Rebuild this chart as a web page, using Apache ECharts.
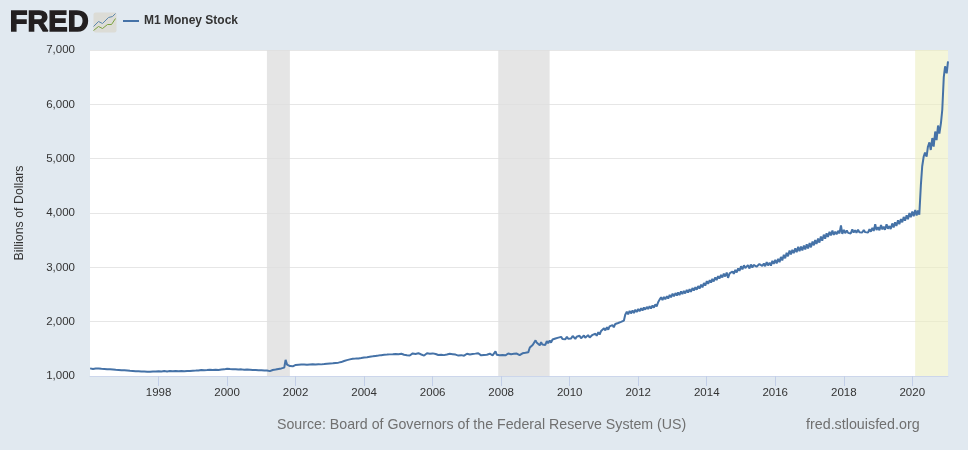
<!DOCTYPE html>
<html><head><meta charset="utf-8">
<style>html,body{margin:0;padding:0;background:#e1e9f0}#c{width:968px;height:450px}</style>
<script src="https://cdn.jsdelivr.net/npm/echarts@6/dist/echarts.min.js"></script>
</head><body><div id="c"></div>
<script>
const seriesName = 'M1 Money Stock';
const yTicks = [1000,2000,3000,4000,5000,6000,7000];
const tickYears = ['1998','2000','2002','2004','2006','2008','2010','2012','2014','2016','2018','2020'];
const recessions = [['2001-03-01','2001-11-01'],['2007-12-01','2009-06-01'],['2020-02-01','2021-01-16']];
const startYear = 1996;
// two readings per month, Jan 1996 onward (billions of dollars)
const y1996=[1140,1132,1128,1146,1136,1126,1138,1124,1133,1120,1130,1116,1124,1110,1122,1106,1118,1102,1114,1098,1110,1094,1106,1090];
const y1997=[1104,1090,1100,1084,1096,1080,1092,1076,1088,1074,1086,1070,1084,1066,1082,1064,1080,1062,1078,1066,1082,1066,1084,1068];
const y1998=[1088,1068,1084,1072,1090,1070,1084,1068,1090,1074,1088,1068,1092,1072,1086,1070,1090,1072,1086,1068,1092,1074,1094,1076];
const y1999=[1098,1078,1100,1082,1102,1086,1112,1088,1106,1088,1110,1090,1114,1094,1110,1092,1116,1096,1112,1092,1118,1096,1122,1104];
const y2000=[1135,1156,1130,1112,1126,1108,1124,1128,1118,1104,1122,1126,1114,1100,1118,1102,1116,1098,1112,1096,1110,1094,1108,1094];
const y2001=[1106,1090,1102,1088,1100,1108,1090,1104,1110,1104,1118,1114,1130,1126,1140,1138,1154,1296,1210,1176,1182,1192,1178,1198];
const y2002=[1204,1182,1208,1186,1210,1190,1212,1192,1208,1188,1212,1190,1216,1194,1212,1192,1218,1196,1214,1194,1220,1198,1226,1202];
const y2003=[1230,1206,1234,1212,1240,1216,1246,1226,1256,1240,1276,1254,1292,1272,1306,1284,1318,1296,1320,1296,1324,1300,1330,1304];
const y2004=[1340,1312,1346,1320,1354,1328,1362,1334,1370,1342,1376,1348,1384,1354,1390,1360,1394,1366,1398,1368,1402,1372,1406,1376];
const y2005=[1402,1380,1410,1376,1392,1414,1384,1404,1378,1398,1416,1382,1406,1378,1420,1388,1396,1410,1376,1400,1418,1384,1410,1392];
const y2006=[1416,1390,1404,1422,1386,1408,1392,1418,1384,1412,1396,1378,1408,1386,1402,1372,1394,1412,1376,1398,1384,1404,1374,1396];
const y2007=[1410,1384,1396,1376,1404,1390,1412,1378,1420,1392,1380,1406,1386,1414,1392,1378,1410,1394,1380,1402,1452,1390,1408,1382];
const y2008=[1404,1386,1412,1380,1396,1414,1384,1402,1378,1408,1388,1412,1392,1384,1406,1418,1400,1426,1458,1436,1524,1490,1572,1540];
const y2009=[1656,1610,1596,1564,1624,1578,1612,1572,1642,1602,1654,1614,1672,1638,1690,1656,1706,1670,1720,1680,1714,1676,1724,1684];
const y2010=[1718,1692,1736,1700,1682,1722,1708,1740,1694,1728,1746,1704,1722,1752,1708,1734,1758,1722,1778,1740,1806,1764,1830,1794];
const y2011=[1878,1840,1896,1852,1912,1876,1936,1898,1958,1922,1976,1942,1996,1962,2020,2126,2182,2136,2198,2152,2206,2160,2220,2176];
const y2012=[2232,2192,2246,2204,2260,2222,2272,2232,2286,2244,2298,2258,2318,2280,2362,2406,2450,2396,2456,2410,2470,2426,2492,2448];
const y2013=[2514,2468,2526,2480,2538,2490,2556,2506,2566,2520,2584,2536,2598,2548,2618,2572,2634,2588,2656,2608,2682,2632,2710,2664];
const y2014=[2746,2698,2764,2720,2786,2740,2814,2766,2838,2792,2860,2814,2884,2832,2904,2806,2888,2852,2924,2880,2954,2906,2980,2936];
const y2015=[3020,2962,3038,2986,3010,3040,2978,3052,2998,3044,3068,3012,3000,3060,3082,3026,3070,3020,3096,3036,3084,3032,3120,3062];
const y2016=[3136,3072,3158,3094,3192,3128,3232,3166,3268,3202,3308,3236,3324,3260,3348,3280,3376,3296,3380,3312,3400,3330,3422,3346];
const y2017=[3448,3368,3474,3404,3502,3430,3528,3456,3566,3488,3602,3526,3626,3558,3654,3586,3676,3596,3658,3608,3672,3624,3770,3616];
const y2018=[3688,3628,3680,3634,3668,3624,3698,3640,3684,3636,3690,3646,3682,3642,3686,3648,3678,3640,3704,3656,3724,3670,3794,3686];
const y2019=[3740,3682,3778,3698,3748,3692,3790,3712,3760,3706,3808,3734,3830,3762,3866,3796,3888,3828,3928,3858,3958,3886,3998,3922];
const y2020=[4026,3942,4054,3956,4044,3970,4520,4860,5040,5110,5040,5220,5300,5160,5380,5220,5500,5340,5610,5460,5660,5900,6500,6700];
const y2021=[6570,6790];
const m1 = [].concat(y1996,y1997,y1998,y1999,y2000,y2001,y2002,y2003,y2004,y2005,y2006,y2007,y2008,y2009,y2010,y2011,y2012,y2013,y2014,y2015,y2016,y2017,y2018,y2019,y2020,y2021);
const pad = n => String(n).padStart(2,'0');
const dates = m1.map((_,i)=>{const y=startYear+Math.floor(i/24),m=Math.floor(i%24/2)+1,d=i%2?16:2;return `${y}-${pad(m)}-${pad(d)}`;});
const ts = s => new Date(s+'T00:00:00Z').getTime();
const tickTimes = tickYears.map(y=>ts(y+'-01-01'));
const chart = echarts.init(document.getElementById('c'),null,{renderer:'canvas'});
const FONT='"Liberation Sans",Arial,sans-serif';
chart.setOption({
  animation:false,
  backgroundColor:'#e1e9f0',
  textStyle:{fontFamily:FONT},
  grid:{left:90,right:20,top:50,bottom:74,backgroundColor:'#fff',show:true,borderWidth:0},
  legend:{show:true,left:118,top:10,icon:'rect',itemWidth:16,itemHeight:2,itemGap:5,selectedMode:false,
    data:[seriesName],textStyle:{fontFamily:FONT,fontSize:12,fontWeight:'bold',color:'#333'}},
  xAxis:{type:'value',min:ts('1996-01-01'),max:ts('2021-01-16'),
    axisLine:{show:true,lineStyle:{color:'#ccd6eb',width:1}},
    axisTick:{show:true,length:10,lineStyle:{color:'#c3cfe8',width:1},customValues:tickTimes},
    axisLabel:{fontFamily:FONT,fontSize:11.5,color:'#333',margin:11,hideOverlap:false,showMinLabel:true,showMaxLabel:true,
      customValues:tickTimes,formatter:v=>String(new Date(v).getUTCFullYear())},
    splitLine:{show:false},minorTick:{show:false}},
  yAxis:{type:'value',min:yTicks[0],max:yTicks[yTicks.length-1],interval:1000,
    name:'Billions of Dollars',nameLocation:'middle',nameGap:64,nameRotate:90,
    nameTextStyle:{fontFamily:FONT,fontSize:12.4,color:'#333'},
    axisLine:{show:false},axisTick:{show:false},
    axisLabel:{fontFamily:FONT,fontSize:11.5,color:'#333',margin:15,padding:[5,0,0,0],formatter:v=>v.toLocaleString('en-US')},
    splitLine:{show:true,lineStyle:{color:'#e6e6e6',width:1}}},
  graphic:[
    {type:'text',left:9,top:8,style:{text:'FRED',fontFamily:FONT,fontSize:29,fontWeight:900,fill:'#231f20',stroke:'#231f20',lineWidth:1.4}},
    {type:'group',left:91,top:11,children:[
      {type:'rect',shape:{x:0,y:0,width:23,height:20,r:2},style:{fill:'#dcdcd6'}},
      {type:'polyline',shape:{points:[[0,14],[5,9],[9,11],[15,5],[19,4],[22,1]]},style:{stroke:'#5b87ad',fill:null,lineWidth:1}},
      {type:'polyline',shape:{points:[[0,18],[5,14],[9,16],[14,12],[18,12],[22,6]]},style:{stroke:'#7ba23f',fill:null,lineWidth:1}}
    ]},
    {type:'text',left:277,top:418,style:{text:'Source: Board of Governors of the Federal Reserve System (US)',fontFamily:FONT,fontSize:14.2,fill:'#707070'}},
    {type:'text',left:806,top:418,style:{text:'fred.stlouisfed.org',fontFamily:FONT,fontSize:14.3,fill:'#707070'}}
  ],
  series:[{
    name:seriesName,type:'line',showSymbol:false,symbol:'none',sampling:null,
    lineStyle:{color:'#4572a7',width:2},itemStyle:{color:'#4572a7'},
    data:dates.map((d,i)=>[ts(d),m1[i]]),
    markArea:{silent:true,z:1,data:recessions.map((r,i)=>[
      {xAxis:ts(r[0]),itemStyle:{color:i===2?'rgba(236,238,190,0.58)':'rgba(222,222,222,0.8)'}},
      {xAxis:ts(r[1])}])}
  }]
});
</script></body></html>
